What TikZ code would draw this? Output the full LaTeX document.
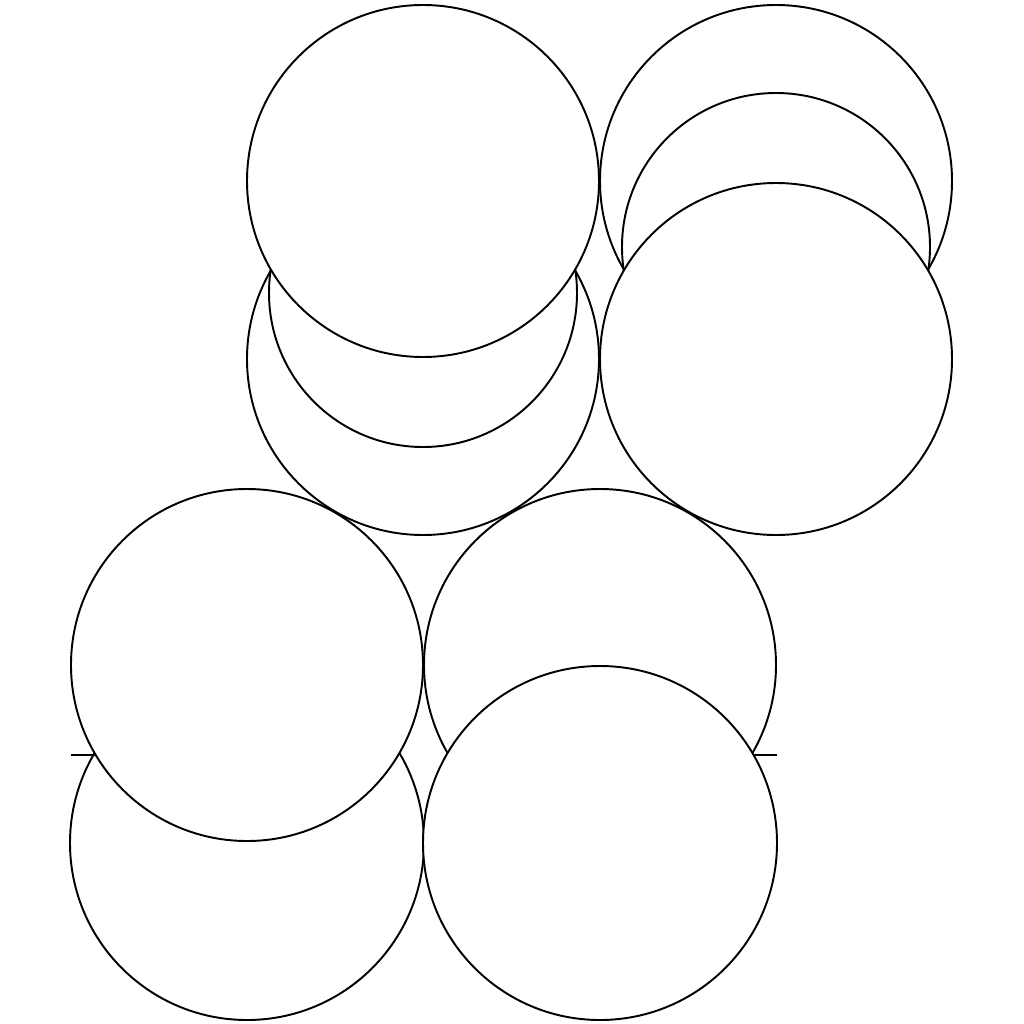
\documentclass[tikz,border=0pt]{standalone}
\usepackage{tikz}
\usetikzlibrary{positioning}
\tikzset{disc/.style = {draw, fill=white, line width=0.55pt}}
\tikzset{edge/.style = {draw, line width=0.55pt}}

\begin{document}
\begin{tikzpicture}[x=0.01cm, y=-0.01cm]
      \useasboundingbox (0, 0) rectangle (1024, 1024);

      % top left
      \draw [disc] (423, 359) circle [radius=176];
      \draw [disc] (423, 293) circle [radius=154];
      \draw [disc] (423, 181) circle [radius=176];

      % top right
      \draw [disc] (776, 181) circle [radius=176];
      \draw [disc] (776, 247) circle [radius=154];
      \draw [disc] (776, 359) circle [radius=176];

      % bottom left
      \draw [disc] (247, 843) circle [radius=177];
      \draw [edge] (71, 755) -- (247, 755);
      \draw [disc] (247, 665) circle [radius=176];

      % bottom right
      \draw [disc] (600, 665) circle [radius=176];
      \draw [edge] (600, 755) -- (777, 755);
      \draw [disc] (600, 843) circle [radius=177];
    \end{tikzpicture}
\end{document}
